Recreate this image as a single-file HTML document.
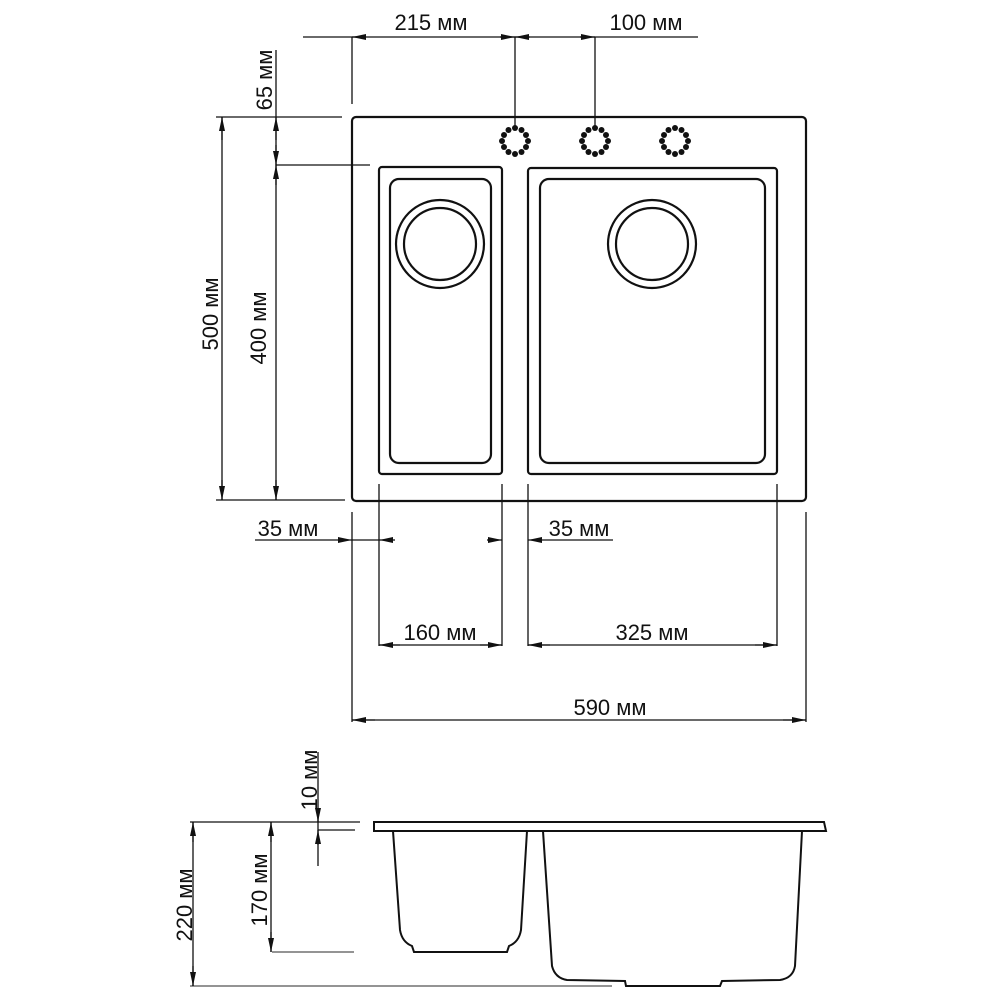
<!DOCTYPE html>
<html><head><meta charset="utf-8"><style>
html,body{margin:0;padding:0;background:#fff}
svg{display:block}
text{font-family:"Liberation Sans",Arial,sans-serif;font-size:22px;fill:#111}
</style></head><body>
<svg width="1000" height="1000" viewBox="0 0 1000 1000" xmlns="http://www.w3.org/2000/svg">
<defs>
<marker id="a" viewBox="0 0 14 6" refX="14" refY="3" markerWidth="14" markerHeight="6" markerUnits="userSpaceOnUse" orient="auto"><path d="M0,0 L14,3 L0,6 z" fill="#111"/></marker>
</defs>
<g stroke="#111" stroke-width="1.3" fill="none">
<line x1="303" y1="37" x2="698" y2="37"/>
<line x1="352" y1="37" x2="352" y2="104"/>
<line x1="515" y1="37" x2="515" y2="126"/>
<line x1="595" y1="37" x2="595" y2="128"/>
<line x1="365" y1="37" x2="352" y2="37" marker-end="url(#a)"/>
<line x1="500" y1="37" x2="515" y2="37" marker-end="url(#a)"/>
<line x1="530" y1="37" x2="515" y2="37" marker-end="url(#a)"/>
<line x1="580" y1="37" x2="595" y2="37" marker-end="url(#a)"/>
<line x1="216" y1="117" x2="342" y2="117"/>
<line x1="276" y1="165" x2="370" y2="165"/>
<line x1="216" y1="500" x2="345" y2="500"/>
<line x1="276" y1="50" x2="276" y2="500"/>
<line x1="222" y1="117" x2="222" y2="500"/>
<line x1="222" y1="140" x2="222" y2="117" marker-end="url(#a)"/>
<line x1="222" y1="480" x2="222" y2="500" marker-end="url(#a)"/>
<line x1="276" y1="140" x2="276" y2="117" marker-end="url(#a)"/>
<line x1="276" y1="145" x2="276" y2="165" marker-end="url(#a)"/>
<line x1="276" y1="185" x2="276" y2="165" marker-end="url(#a)"/>
<line x1="276" y1="480" x2="276" y2="500" marker-end="url(#a)"/>
<line x1="255" y1="540" x2="352" y2="540" marker-end="url(#a)"/>
<line x1="395" y1="540" x2="379" y2="540" marker-end="url(#a)"/>
<line x1="352" y1="540" x2="379" y2="540"/>
<line x1="487" y1="540" x2="502" y2="540" marker-end="url(#a)"/>
<line x1="613" y1="540" x2="528" y2="540" marker-end="url(#a)"/>
<line x1="352" y1="512" x2="352" y2="722"/>
<line x1="806" y1="512" x2="806" y2="722"/>
<line x1="379" y1="484" x2="379" y2="646"/>
<line x1="502" y1="484" x2="502" y2="646"/>
<line x1="528" y1="484" x2="528" y2="646"/>
<line x1="777" y1="484" x2="777" y2="646"/>
<line x1="379" y1="645" x2="502" y2="645"/>
<line x1="400" y1="645" x2="379" y2="645" marker-end="url(#a)"/>
<line x1="480" y1="645" x2="502" y2="645" marker-end="url(#a)"/>
<line x1="528" y1="645" x2="777" y2="645"/>
<line x1="550" y1="645" x2="528" y2="645" marker-end="url(#a)"/>
<line x1="755" y1="645" x2="777" y2="645" marker-end="url(#a)"/>
<line x1="352" y1="720" x2="806" y2="720"/>
<line x1="375" y1="720" x2="352" y2="720" marker-end="url(#a)"/>
<line x1="783" y1="720" x2="806" y2="720" marker-end="url(#a)"/>
</g>
<g stroke="#111" stroke-width="2.2" fill="none">
<rect x="352" y="117" width="454" height="384" rx="4"/>
<rect x="379" y="167" width="123" height="307" rx="3"/>
<rect x="390" y="179" width="101" height="284" rx="9"/>
<rect x="528" y="168" width="249" height="306" rx="3"/>
<rect x="540" y="179" width="225" height="284" rx="9"/>
<circle cx="440" cy="244" r="44"/>
<circle cx="440" cy="244" r="36"/>
<circle cx="652" cy="244" r="44"/>
<circle cx="652" cy="244" r="36"/>
</g>
<g fill="#111">
<g id="h"><circle cx="515" cy="128" r="3"/><circle cx="521.5" cy="130" r="3"/><circle cx="526" cy="135" r="3"/><circle cx="528" cy="141" r="3"/><circle cx="526" cy="147" r="3"/><circle cx="521.5" cy="152" r="3"/><circle cx="515" cy="154" r="3"/><circle cx="508.5" cy="152" r="3"/><circle cx="504" cy="147" r="3"/><circle cx="502" cy="141" r="3"/><circle cx="504" cy="135" r="3"/><circle cx="508.5" cy="130" r="3"/></g>
<use href="#h" x="80"/>
<use href="#h" x="160"/>
</g>
<g stroke="#111" stroke-width="2" fill="none">
<path d="M374,822 L824,822 L826,831 L374,831 Z"/>
<path d="M393,831 L400,930 Q402,942 412,946 L414,952 L507,952 L509,946 Q519,942 521,930 L527,831"/>
<path d="M543,831 L552,966 Q555,978 567,980 L625,981 L626,986 L720,986 L722,981 L780,980 Q793,978 795,966 L802,831"/>
</g>
<g stroke="#111" stroke-width="1.3" fill="none">
<line x1="190" y1="822" x2="360" y2="822"/>
<line x1="318" y1="830" x2="355" y2="830"/>
<line x1="272" y1="952" x2="354" y2="952" stroke="#555"/>
<line x1="190" y1="986" x2="612" y2="986" stroke="#555"/>
<line x1="193" y1="822" x2="193" y2="986"/>
<line x1="193" y1="842" x2="193" y2="822" marker-end="url(#a)"/>
<line x1="193" y1="966" x2="193" y2="986" marker-end="url(#a)"/>
<line x1="271" y1="822" x2="271" y2="952"/>
<line x1="271" y1="842" x2="271" y2="822" marker-end="url(#a)"/>
<line x1="271" y1="932" x2="271" y2="952" marker-end="url(#a)"/>
<line x1="318" y1="752" x2="318" y2="866"/>
<line x1="318" y1="808" x2="318" y2="822" marker-end="url(#a)"/>
<line x1="318" y1="845" x2="318" y2="830" marker-end="url(#a)"/>
</g>
<g>
<text x="431" y="30" text-anchor="middle">215 мм</text>
<text x="646" y="30" text-anchor="middle">100 мм</text>
<text x="288" y="536" text-anchor="middle">35 мм</text>
<text x="579" y="536" text-anchor="middle">35 мм</text>
<text x="440" y="640" text-anchor="middle">160 мм</text>
<text x="652" y="640" text-anchor="middle">325 мм</text>
<text x="610" y="715" text-anchor="middle">590 мм</text>
<text transform="translate(272,80) rotate(-90)" text-anchor="middle">65 мм</text>
<text transform="translate(218,314) rotate(-90)" text-anchor="middle">500 мм</text>
<text transform="translate(266,328) rotate(-90)" text-anchor="middle">400 мм</text>
<text transform="translate(317,780) rotate(-90)" text-anchor="middle">10 мм</text>
<text transform="translate(267,890) rotate(-90)" text-anchor="middle">170 мм</text>
<text transform="translate(192,905) rotate(-90)" text-anchor="middle">220 мм</text>
</g>
</svg>
</body></html>
